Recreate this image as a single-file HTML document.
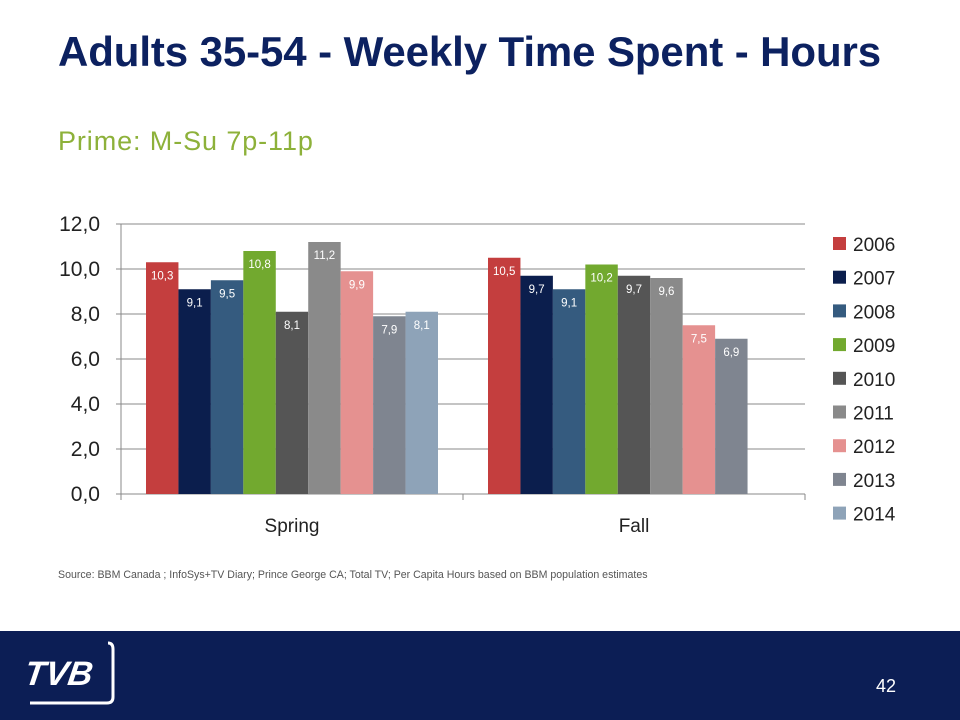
<!DOCTYPE html>
<html style="overflow:hidden;width:960px;height:720px"><head><meta charset="utf-8"><style>
body{margin:0;width:960px;height:720px;background:#fff;font-family:"Liberation Sans",sans-serif;position:relative;overflow:hidden}
#title{position:absolute;left:58px;top:28px;font-size:42px;font-weight:bold;color:#0c2160;white-space:nowrap;letter-spacing:-0.1px}
#sub{position:absolute;left:58px;top:126px;font-size:27px;color:#8db13a;letter-spacing:0.9px;white-space:nowrap}
#src{position:absolute;left:58px;top:569px;font-size:10.6px;color:#555;white-space:nowrap}
#footer{position:absolute;left:0;top:631px;width:960px;height:89px;background:#0c1e55}
#pg{position:absolute;left:876px;top:45px;color:#fff;font-size:18px}
</style></head><body>
<div id="title">Adults 35-54 - Weekly Time Spent - Hours</div>
<div id="sub">Prime: M-Su 7p-11p</div>
<svg id="chart" width="960" height="631" style="position:absolute;left:0;top:0"></svg>
<div id="src">Source: BBM Canada ; InfoSys+TV Diary; Prince George CA; Total TV; Per Capita Hours based on BBM population estimates</div>
<div id="footer">
<svg width="120" height="80" style="position:absolute;left:20px;top:6px">
<path d="M88 6 Q93 6 93 12 L93 60 Q93 66 87 66 L10 66" fill="none" stroke="#fff" stroke-width="3"/>
<text x="10" y="48" font-family="Liberation Sans" font-weight="bold" font-style="italic" font-size="34" fill="#fff" transform="skewX(-8)">TVB</text>
</svg>
<div id="pg">42</div>
</div>
<script>
const categories=["Spring","Fall"];
const years=["2006","2007","2008","2009","2010","2011","2012","2013","2014"];
const colors=["#c43e3e","#0b1e4d","#355b7f","#72a92f","#555555","#8a8a8a","#e59190","#7f8590","#8ea3b8"];
const spring=[10.3,9.1,9.5,10.8,8.1,11.2,9.9,7.9,8.1];
const fall=[10.5,9.7,9.1,10.2,9.7,9.6,7.5,6.9,null];
const ticks=[0,2,4,6,8,10,12];
const tickLabels=["0,0","2,0","4,0","6,0","8,0","10,0","12,0"];
const series=[spring,fall];
const NS="http://www.w3.org/2000/svg";
const svg=document.getElementById('chart');
const X0=121,X1=805,Y0=494,Y1=224,YMAX=12;
const y=v=>Y0-(v/YMAX)*(Y0-Y1);
const catW=(X1-X0)/categories.length,pad=25,bw=(catW-2*pad)/years.length;
const bx=(c,i)=>X0+c*catW+pad+i*bw;
function el(t,a){const e=document.createElementNS(NS,t);for(const k in a)e.setAttribute(k,a[k]);svg.appendChild(e);return e;}
ticks.forEach((t,i)=>{
 const g=el('line',{x1:X0-5,x2:X1,y1:y(t),y2:y(t),stroke:'#888','stroke-width':1});
 
 
 const l=el('text',{x:X0-21,y:y(t)+7,'text-anchor':'end','font-size':21,fill:'#222','font-family':'Liberation Sans'});
 l.textContent=tickLabels[i];
 
 
});
const ax=el('line',{x1:X0,x2:X0,y1:Y1,y2:Y0,stroke:'#888'});


[0,1,2].forEach(c=>{const tk=el('line',{x1:X0+c*catW,x2:X0+c*catW,y1:Y0,y2:Y0+6,stroke:'#888'});
 
 });
categories.forEach((cat,c)=>{
 const t=el('text',{x:X0+c*catW+catW/2,y:532,'text-anchor':'middle','font-size':19,fill:'#222','font-family':'Liberation Sans'});
 t.textContent=cat;
 
 
 series[c].forEach((v,i)=>{
  if(v==null)return;
  const r=el('rect',{x:bx(c,i),y:y(v),width:bw,height:Y0-y(v),fill:colors[i]});
  
  
  const lb=el('text',{x:bx(c,i)+bw/2,y:y(v)+17,'text-anchor':'middle','font-size':11.5,fill:'#fff','font-family':'Liberation Sans'});
  lb.textContent=v.toFixed(1).replace('.',',');
  
  
 });
});
years.forEach((yr,i)=>{
 const ly=244+i*33.7;
 const s=el('rect',{x:833,y:ly-7,width:13,height:13,fill:colors[i]});
 
 
 const t=el('text',{x:853,y:ly+7,'font-size':19,fill:'#222','font-family':'Liberation Sans'});
 t.textContent=yr;
 
 
});
</script>
</body></html>
